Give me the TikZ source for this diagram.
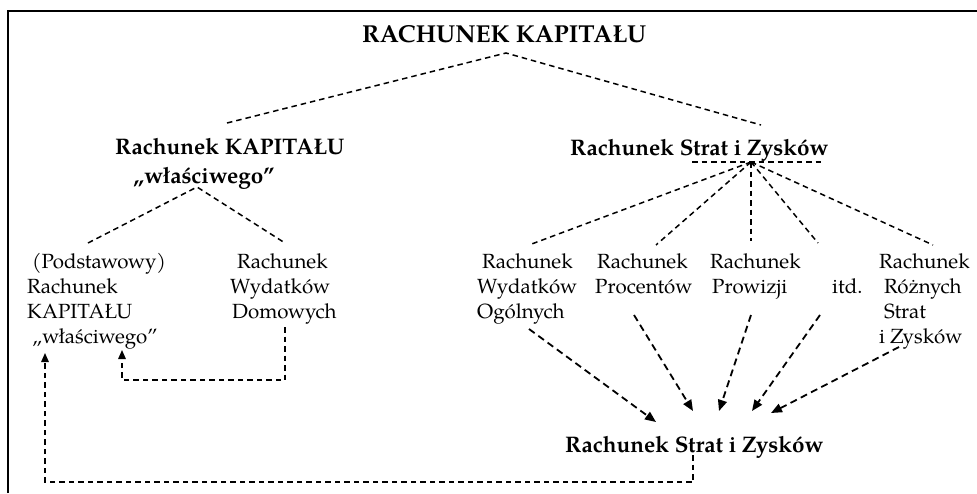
\documentclass[tikz,border=0pt]{standalone}
\usepackage{fontspec}
\setmainfont{TeX Gyre Pagella}
\usetikzlibrary{arrows.meta}
\tikzset{
  txt/.style={anchor=base west,inner sep=0pt,font=\fontsize{20.5}{24.6}\selectfont},
  btxt/.style={anchor=base west,inner sep=0pt,font=\fontsize{22.5}{27}\selectfont\bfseries},
  link/.style={line width=1.5pt,dash pattern=on 5.5pt off 4pt},
  feed/.style={line width=1.8pt,dash pattern=on 7pt off 4.5pt,-{Triangle[length=11pt,width=9pt]}},
  back/.style={link,-{Triangle[length=9pt,width=7.5pt]}},
}
\begin{document}
\begin{tikzpicture}[x=1pt,y=-1pt]
\path[use as bounding box] (0,0) rectangle (977.0,493.0);
\draw[line width=2pt] (8,493) -- (8,11) -- (977,11);
% headings
\node[btxt,font=\fontsize{24.5}{29}\selectfont\bfseries] (title) at (362,42) {RACHUNEK KAPITAŁU};
\node[btxt] (kwA) at (115,154) {Rachunek KAPITAŁU};
\node[btxt] (kwB) at (133,183) {„właściwego”};
\node[btxt] (szTop) at (570,155) {Rachunek Strat i Zysków};
\node[btxt] (szBot) at (565,452) {Rachunek Strat i Zysków};
% left columns
\node[txt] (podA) at (32,268) {(Podstawowy)};
\node[txt] (podB) at (27,293) {Rachunek};
\node[txt] (podC) at (27,318) {KAPITAŁU};
\node[txt] (podD) at (32,343) {„właściwego”};
\node[txt] (domA) at (237,268) {Rachunek};
\node[txt] (domB) at (230,293) {Wydatków};
\node[txt] (domC) at (232,318) {Domowych};
% right columns
\node[txt] (ogA) at (482,268) {Rachunek};
\node[txt] (ogB) at (477,293) {Wydatków};
\node[txt] (ogC) at (477,318) {Ogólnych};
\node[txt] (prA) at (597,268) {Rachunek};
\node[txt] (prB) at (595,293) {Procentów};
\node[txt] (pwA) at (710,268) {Rachunek};
\node[txt] (pwB) at (712,293) {Prowizji};
\node[txt] (itd) at (832,293) {itd.};
\node[txt] (rzA) at (879,268) {Rachunek};
\node[txt] (rzB) at (884,293) {Różnych};
\node[txt] (rzC) at (884,318) {Strat};
\node[txt] (rzD) at (879,343) {i Zysków};
% line ends
\coordinate (tTip) at (506,53);
\coordinate (kwEnd) at (227,123);
\coordinate (szEnd) at (761,125);
\coordinate (kwTip) at (197,187);
\coordinate (podEnd) at (88,243);
\coordinate (domEnd) at (285,243);
\coordinate (szTip) at (751,162);
\coordinate (ulL) at (692,162);
\coordinate (ulR) at (822,162);
\coordinate (ogEnd) at (529,245);
\coordinate (prEnd) at (656,245);
\coordinate (pwEnd) at (751,241);
\coordinate (itdEnd) at (818,243);
\coordinate (rzEnd) at (933,245);
\coordinate (ogOut) at (529,329);
\coordinate (prOut) at (634,315);
\coordinate (pwOut) at (751,315);
\coordinate (itdOut) at (820,315);
\coordinate (rzOut) at (899,347);
\coordinate (ogIn) at (656,422);
\coordinate (prIn) at (693,411);
\coordinate (pwIn) at (719,411);
\coordinate (itdIn) at (752,411);
\coordinate (rzIn) at (771,413);
\coordinate (domOut) at (285,327);
\coordinate (podIn) at (122,350);
\coordinate (szOut) at (693,455);
\coordinate (podIn2) at (45,353);
% tree
\draw[link] (kwEnd) -- (tTip) -- (szEnd);
\draw[link] (podEnd) -- (kwTip) -- (domEnd);
\draw[link] (ulL) -- (ulR);
\foreach \e in {ogEnd,prEnd,pwEnd,itdEnd,rzEnd}
  \draw[link] (szTip) -- (\e);
\foreach \a/\b in {ogOut/ogIn,prOut/prIn,pwOut/pwIn,itdOut/itdIn,rzOut/rzIn}
  \draw[feed] (\a) -- (\b);
\draw[back] (domOut) -- (285,380) -| (podIn);
\draw[back] (szOut) -- (693,482) -| (podIn2);
\end{tikzpicture}
\end{document}
